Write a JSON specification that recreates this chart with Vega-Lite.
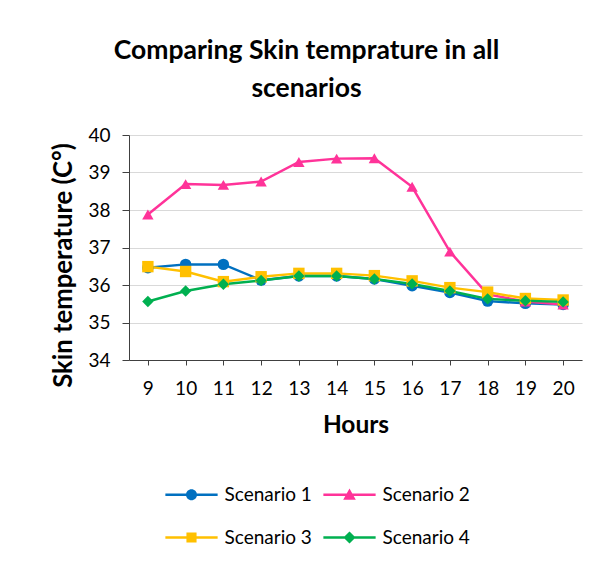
{
  "$schema": "https://vega.github.io/schema/vega-lite/v6.json",
  "width": 453,
  "height": 225,
  "autosize": {"type": "none"},
  "padding": {"left": 129, "top": 135, "right": 28, "bottom": 202},
  "background": "white",
  "config": {"view": {"stroke": null}},
  "title": {
    "text": ["Comparing Skin temprature in all", "scenarios"],
    "font": "Lato", "fontSize": 26.5, "fontWeight": "bold", "color": "black",
    "anchor": "middle", "dx": -49, "lineHeight": 38, "offset": 24
  },
  "data": {"values": [
    {"Hour": 9, "Scenario": "Scenario 1", "Temp": 36.46},
    {"Hour": 10, "Scenario": "Scenario 1", "Temp": 36.55},
    {"Hour": 11, "Scenario": "Scenario 1", "Temp": 36.55},
    {"Hour": 12, "Scenario": "Scenario 1", "Temp": 36.13},
    {"Hour": 13, "Scenario": "Scenario 1", "Temp": 36.24},
    {"Hour": 14, "Scenario": "Scenario 1", "Temp": 36.24},
    {"Hour": 15, "Scenario": "Scenario 1", "Temp": 36.16},
    {"Hour": 16, "Scenario": "Scenario 1", "Temp": 35.98},
    {"Hour": 17, "Scenario": "Scenario 1", "Temp": 35.8},
    {"Hour": 18, "Scenario": "Scenario 1", "Temp": 35.57},
    {"Hour": 19, "Scenario": "Scenario 1", "Temp": 35.51},
    {"Hour": 20, "Scenario": "Scenario 1", "Temp": 35.48},
    {"Hour": 9, "Scenario": "Scenario 2", "Temp": 37.88},
    {"Hour": 10, "Scenario": "Scenario 2", "Temp": 38.69},
    {"Hour": 11, "Scenario": "Scenario 2", "Temp": 38.67},
    {"Hour": 12, "Scenario": "Scenario 2", "Temp": 38.76},
    {"Hour": 13, "Scenario": "Scenario 2", "Temp": 39.28},
    {"Hour": 14, "Scenario": "Scenario 2", "Temp": 39.37},
    {"Hour": 15, "Scenario": "Scenario 2", "Temp": 39.38},
    {"Hour": 16, "Scenario": "Scenario 2", "Temp": 38.62},
    {"Hour": 17, "Scenario": "Scenario 2", "Temp": 36.89},
    {"Hour": 18, "Scenario": "Scenario 2", "Temp": 35.75},
    {"Hour": 19, "Scenario": "Scenario 2", "Temp": 35.56},
    {"Hour": 20, "Scenario": "Scenario 2", "Temp": 35.48},
    {"Hour": 9, "Scenario": "Scenario 3", "Temp": 36.49},
    {"Hour": 10, "Scenario": "Scenario 3", "Temp": 36.36},
    {"Hour": 11, "Scenario": "Scenario 3", "Temp": 36.09},
    {"Hour": 12, "Scenario": "Scenario 3", "Temp": 36.22},
    {"Hour": 13, "Scenario": "Scenario 3", "Temp": 36.31},
    {"Hour": 14, "Scenario": "Scenario 3", "Temp": 36.31},
    {"Hour": 15, "Scenario": "Scenario 3", "Temp": 36.25},
    {"Hour": 16, "Scenario": "Scenario 3", "Temp": 36.11},
    {"Hour": 17, "Scenario": "Scenario 3", "Temp": 35.93},
    {"Hour": 18, "Scenario": "Scenario 3", "Temp": 35.81},
    {"Hour": 19, "Scenario": "Scenario 3", "Temp": 35.64},
    {"Hour": 20, "Scenario": "Scenario 3", "Temp": 35.6},
    {"Hour": 9, "Scenario": "Scenario 4", "Temp": 35.56},
    {"Hour": 10, "Scenario": "Scenario 4", "Temp": 35.84},
    {"Hour": 11, "Scenario": "Scenario 4", "Temp": 36.02},
    {"Hour": 12, "Scenario": "Scenario 4", "Temp": 36.12},
    {"Hour": 13, "Scenario": "Scenario 4", "Temp": 36.24},
    {"Hour": 14, "Scenario": "Scenario 4", "Temp": 36.24},
    {"Hour": 15, "Scenario": "Scenario 4", "Temp": 36.16},
    {"Hour": 16, "Scenario": "Scenario 4", "Temp": 36.03},
    {"Hour": 17, "Scenario": "Scenario 4", "Temp": 35.84},
    {"Hour": 18, "Scenario": "Scenario 4", "Temp": 35.63},
    {"Hour": 19, "Scenario": "Scenario 4", "Temp": 35.58},
    {"Hour": 20, "Scenario": "Scenario 4", "Temp": 35.55}
  ]},
  "encoding": {
    "x": {
      "field": "Hour", "type": "ordinal",
      "scale": {"type": "point", "padding": 0.5},
      "axis": {
        "title": "Hours", "labelAngle": 0, "grid": false,
        "labelFont": "Lato", "labelFontSize": 19, "labelColor": "black", "labelPadding": 14,
        "tickSize": 5, "tickColor": "#404040", "domainColor": "#404040",
        "titleFont": "Lato", "titleFontSize": 24.5, "titleFontWeight": "bold", "titleColor": "black", "titlePadding": 15
      }
    },
    "y": {
      "field": "Temp", "type": "quantitative",
      "scale": {"domain": [34, 40], "zero": false, "nice": false},
      "axis": {
        "title": "Skin temperature (C°)", "values": [34, 35, 36, 37, 38, 39, 40],
        "labelFont": "Lato", "labelFontSize": 19, "labelColor": "black", "labelPadding": 12,
        "tickSize": 7, "tickColor": "#404040", "domainColor": "#404040", "gridColor": "#d9d9d9",
        "titleFont": "Lato", "titleFontSize": 25.7, "titleFontWeight": "bold", "titleColor": "black", "titlePadding": 11, "titleY": 130
      }
    }
  },
  "resolve": {"scale": {"color": "independent", "shape": "independent"}},
  "layer": [
    {
      "mark": {"type": "line", "strokeWidth": 2.5},
      "encoding": {
        "color": {
          "field": "Scenario", "type": "nominal", "legend": null,
          "scale": {"domain": ["Scenario 1", "Scenario 2", "Scenario 3", "Scenario 4"], "range": ["#0070C0", "#FF3399", "#FFC000", "#00B050"]}
        }
      }
    },
    {
      "mark": {"type": "point", "filled": true, "size": 130, "opacity": 1},
      "encoding": {
        "color": {
          "field": "Scenario", "type": "nominal", "legend": null,
          "scale": {"domain": ["Scenario 1", "Scenario 2", "Scenario 3", "Scenario 4"], "range": ["#0070C0", "#FF3399", "#FFC000", "#00B050"]}
        },
        "shape": {
          "field": "Scenario", "type": "nominal", "legend": null,
          "scale": {"domain": ["Scenario 1", "Scenario 2", "Scenario 3", "Scenario 4"], "range": ["circle", "triangle-up", "square", "diamond"]}
        }
      }
    },
    {
      "transform": [{"filter": "datum.Temp > 100"}],
      "mark": {"type": "point", "filled": true, "opacity": 1},
      "encoding": {
        "color": {
          "field": "Scenario", "type": "nominal",
          "scale": {"domain": ["Scenario 1", "Scenario 2", "Scenario 3", "Scenario 4"], "range": ["#0070C0", "#FF3399", "#FFC000", "#00B050"]},
          "legend": {
            "orient": "none", "legendX": 53, "legendY": 350, "direction": "horizontal", "columns": 2,
            "title": null, "labelFont": "Lato", "labelFontSize": 19, "labelColor": "black",
            "symbolSize": 121, "labelOffset": 23.5, "columnPadding": 11, "rowPadding": 23,
            "symbolStrokeWidth": 0, "symbolOpacity": 1
          }
        },
        "shape": {
          "field": "Scenario", "type": "nominal",
          "scale": {"domain": ["Scenario 1", "Scenario 2", "Scenario 3", "Scenario 4"], "range": [
            "M-4.75,-0.22H4.75V0.22H-4.75Z M-1,0A1,1,0,1,1,1,0A1,1,0,1,1,-1,0Z",
            "M-4.75,-0.22H4.75V0.22H-4.75Z M0,-1.15L1.15,0.9L-1.15,0.9Z",
            "M-4.75,-0.22H4.75V0.22H-4.75Z M-0.92,-0.92H0.92V0.92H-0.92Z",
            "M-4.75,-0.22H4.75V0.22H-4.75Z M0,-1.1L1.1,0L0,1.1L-1.1,0Z"
          ]},
          "legend": {
            "orient": "none", "legendX": 53, "legendY": 350, "direction": "horizontal", "columns": 2,
            "title": null, "labelFont": "Lato", "labelFontSize": 19, "labelColor": "black",
            "symbolSize": 121, "labelOffset": 23.5, "columnPadding": 11, "rowPadding": 23,
            "symbolStrokeWidth": 0, "symbolOpacity": 1
          }
        }
      }
    }
  ]
}
